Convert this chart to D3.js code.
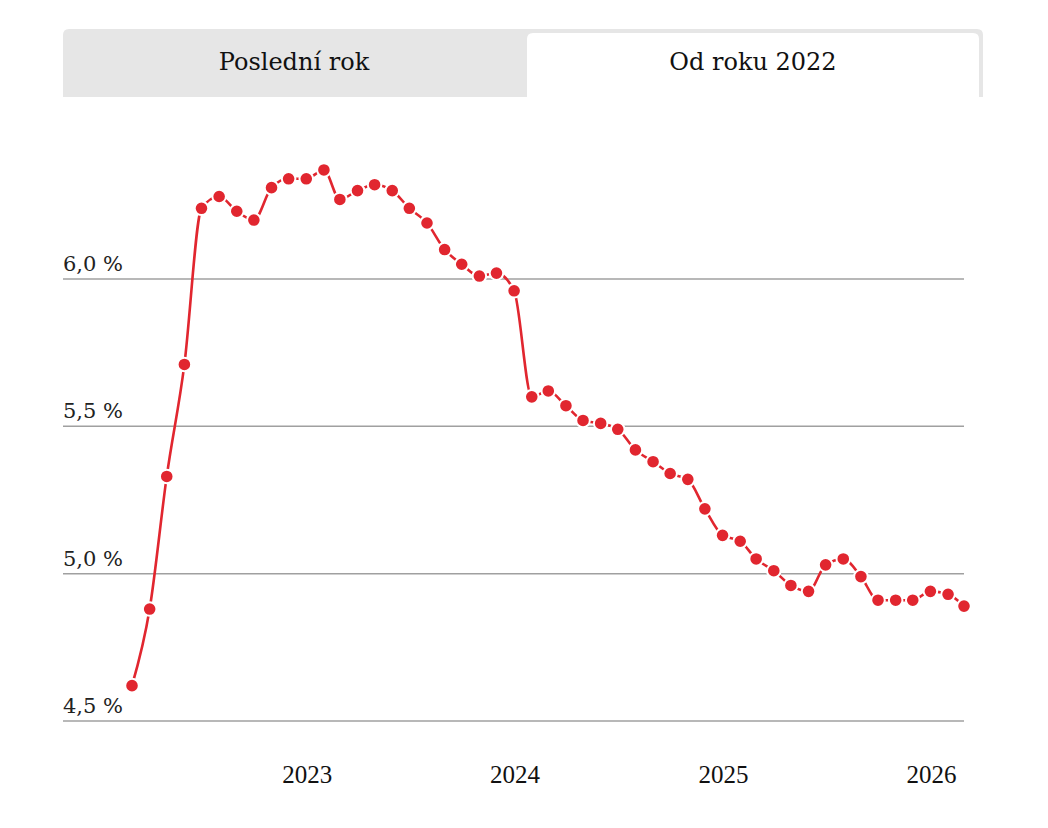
<!DOCTYPE html>
<meta charset="utf-8">
<head>
  <title>Sazba</title>
  <style>
  body { margin: 0; background: #fff; }
  .tab { font-family: "DejaVu Serif", serif; font-size: 24px; fill: #111; }
  .ylab { font-family: "DejaVu Serif", serif; font-size: 21px; fill: #222; }
  .xlab { font-family: "Liberation Serif", serif; font-size: 25px; fill: #111; }
  </style>
</head>
<html>
  <body>
    <svg width="1048" height="828"></svg>
  </body>
</html>
<script src="https://d3js.org/d3.v7.min.js"></script>
<script>
var months = [
  "2022-03","2022-04","2022-05","2022-06","2022-07","2022-08","2022-09","2022-10","2022-11","2022-12",
  "2023-01","2023-02","2023-03","2023-04","2023-05","2023-06","2023-07","2023-08","2023-09","2023-10","2023-11","2023-12",
  "2024-01","2024-02","2024-03","2024-04","2024-05","2024-06","2024-07","2024-08","2024-09","2024-10","2024-11","2024-12",
  "2025-01","2025-02","2025-03","2025-04","2025-05","2025-06","2025-07","2025-08","2025-09","2025-10","2025-11","2025-12",
  "2026-01","2026-02","2026-03"
];
var rates = [
  4.62, 4.88, 5.33, 5.71, 6.24, 6.28, 6.23, 6.20, 6.31, 6.34,
  6.34, 6.37, 6.27, 6.30, 6.32, 6.30, 6.24, 6.19, 6.10, 6.05, 6.01, 6.02,
  5.96, 5.60, 5.62, 5.57, 5.52, 5.51, 5.49, 5.42, 5.38, 5.34, 5.32, 5.22,
  5.13, 5.11, 5.05, 5.01, 4.96, 4.94, 5.03, 5.05, 4.99, 4.91, 4.91, 4.91,
  4.94, 4.93, 4.89
];
var yTicks = [4.5, 5.0, 5.5, 6.0];
var xTicks = ["2023-01", "2024-01", "2025-01", "2026-01"];
var tabs = ["Poslední rok", "Od roku 2022"];

var parseMonth = d3.timeParse("%Y-%m");
var data = months.map(function(m, i) { return {date: parseMonth(m), value: rates[i]}; });

var svg = d3.select("svg");

// tabs
svg.append("path")
    .attr("fill", "#e6e6e6")
    .attr("d", "M63,97 V35 Q63,29 69,29 H977 Q983,29 983,35 V97 Z");
svg.append("path")
    .attr("fill", "#fff")
    .attr("d", "M527,97 V39 Q527,33 533,33 H973 Q979,33 979,39 V97 Z");
svg.selectAll(".tab")
    .data(tabs)
  .enter().append("text")
    .attr("class", "tab")
    .attr("x", function(d, i) { return i === 0 ? 294 : 753; })
    .attr("y", 70)
    .attr("text-anchor", "middle")
    .text(function(d) { return d; });

var x = d3.scaleTime()
    .domain([parseMonth("2022-03"), parseMonth("2026-03")])
    .range([132, 964]);

var y = d3.scaleLinear()
    .domain([4.5, 6.0])
    .range([721, 279]);

// grid
svg.append("g").selectAll("line")
    .data(yTicks)
  .enter().append("line")
    .attr("x1", 63)
    .attr("x2", 964)
    .attr("y1", function(d) { return y(d); })
    .attr("y2", function(d) { return y(d); })
    .attr("stroke", "#a0a0a0")
    .attr("stroke-width", 1.5);

svg.append("g").selectAll("text")
    .data(yTicks)
  .enter().append("text")
    .attr("class", "ylab")
    .attr("x", 63)
    .attr("y", function(d) { return y(d) - 8; })
    .text(function(d) { return d3.format(".1f")(d).replace(".", ",") + " %"; });

svg.append("g").selectAll("text")
    .data(xTicks)
  .enter().append("text")
    .attr("class", "xlab")
    .attr("x", function(d) { return x(parseMonth(d)) + 1; })
    .attr("y", 783)
    .attr("text-anchor", "middle")
    .text(function(d) { return d.slice(0, 4); });

var line = d3.line()
    .curve(d3.curveMonotoneX)
    .x(function(d) { return x(d.date); })
    .y(function(d) { return y(d.value); });

svg.append("path")
    .datum(data)
    .attr("fill", "none")
    .attr("stroke", "#e1262f")
    .attr("stroke-width", 2.6)
    .attr("stroke-linejoin", "round")
    .attr("d", line);

svg.append("g").selectAll("circle")
    .data(data)
  .enter().append("circle")
    .attr("cx", function(d) { return x(d.date); })
    .attr("cy", function(d) { return y(d.value); })
    .attr("r", 6.8)
    .attr("fill", "#e1262f")
    .attr("stroke", "#fff")
    .attr("stroke-width", 2);
</script>
